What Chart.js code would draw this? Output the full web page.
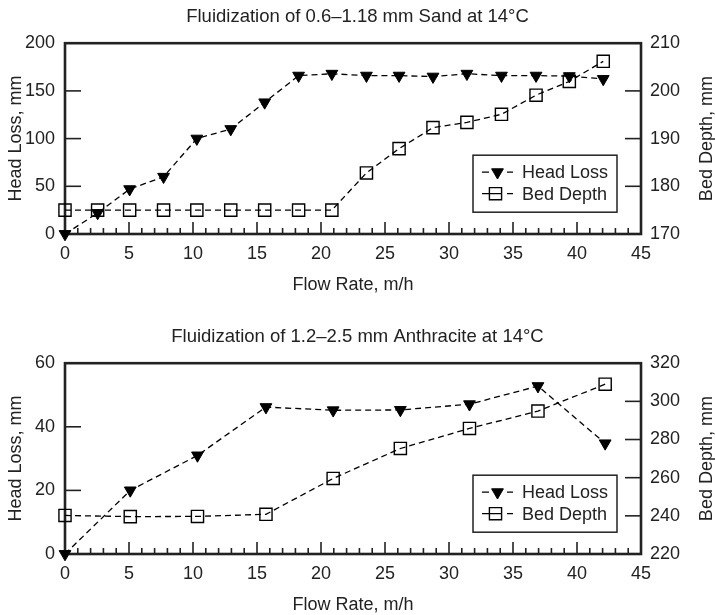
<!DOCTYPE html>
<html>
<head>
<meta charset="utf-8">
<script src="https://cdn.jsdelivr.net/npm/chart.js@4.4.0/dist/chart.umd.min.js"></script>
<style>
  html, body { margin: 0; padding: 0; background: #fff; overflow: hidden; }
  #top { position: absolute; left: 0; top: 0; }
  #bottom { position: absolute; left: 0; top: 320px; }
</style>
</head>
<body>
<canvas id="top" width="715" height="300"></canvas>
<canvas id="bottom" width="715" height="300"></canvas>
<script>
// sand run (top panel)
const sandFlow = [0, 2.55, 5.05, 7.7, 10.3, 12.95, 15.6, 18.25, 20.85, 23.55, 26.1, 28.75, 31.4, 34.1, 36.8, 39.4, 42.05];
const sandHeadLoss = [0, 22, 47, 60, 100, 110, 138, 166, 168, 166, 166, 165, 168, 166, 166, 165.5, 162.5];
const sandBedDepth = [175, 175, 175, 175, 175, 175, 175, 175, 175, 182.8, 187.9, 192.3, 193.4, 195.1, 199.1, 202, 206.2];

// anthracite run (bottom panel)
const anthFlow = [0, 5.1, 10.35, 15.7, 20.95, 26.2, 31.6, 36.95, 42.2];
const anthHeadLoss = [0, 20, 31, 46.2, 45.2, 45.3, 47.1, 52.8, 34.8];
const anthBedDepth = [240.2, 239.6, 239.7, 240.8, 259.6, 275.3, 285.8, 294.9, 309];

const seriesLabels = ['Head Loss', 'Bed Depth'];
const xTitle = 'Flow Rate, m/h';
const leftTitle = 'Head Loss, mm';
const rightTitle = 'Bed Depth, mm';

const FONT = '"Liberation Sans", Arial, Helvetica, sans-serif';
const INK = '#222';
const TXT = 18;

Chart.defaults.font.family = FONT;
Chart.defaults.color = INK;

// frame, inward ticks, right-hand title and the boxed legend
const framePlugin = {
  id: 'frame',
  beforeDatasetsDraw(chart) {
    const { ctx, chartArea: a, scales } = chart;
    ctx.save();
    ctx.strokeStyle = INK;
    ctx.lineWidth = 1.6;
    // x ticks: major every 5, minor every 1
    for (let v = 1; v < 45; v++) {
      const px = scales.x.getPixelForValue(v);
      const len = v % 5 === 0 ? 12 : 6;
      ctx.beginPath();
      ctx.moveTo(px, a.bottom);
      ctx.lineTo(px, a.bottom - len);
      ctx.stroke();
    }
    scales.y.ticks.forEach(t => {
      const py = scales.y.getPixelForValue(t.value);
      ctx.beginPath();
      ctx.moveTo(a.left, py);
      ctx.lineTo(a.left + 16, py);
      ctx.stroke();
    });
    scales.y1.ticks.forEach(t => {
      const py = scales.y1.getPixelForValue(t.value);
      ctx.beginPath();
      ctx.moveTo(a.right - 16, py);
      ctx.lineTo(a.right, py);
      ctx.stroke();
    });
    ctx.lineWidth = 2.6;
    ctx.strokeRect(a.left, a.top, a.right - a.left, a.bottom - a.top);

    // right axis title reads bottom to top, like the left one
    ctx.fillStyle = INK;
    ctx.font = TXT + 'px ' + FONT;
    ctx.textAlign = 'center';
    ctx.textBaseline = 'middle';
    ctx.translate(707, (a.top + a.bottom) / 2);
    ctx.rotate(-Math.PI / 2);
    ctx.fillText(rightTitle, 0, 0);
    ctx.restore();
  },
  afterDraw(chart) {
    const { ctx, chartArea: a } = chart;
    const left = a.right - 168;
    const top = a.top + 112;
    ctx.save();
    ctx.fillStyle = '#fff';
    ctx.fillRect(left, top, 144, 57);
    ctx.strokeStyle = INK;
    ctx.lineWidth = 1.5;
    ctx.strokeRect(left, top, 144, 57);

    const rows = [top + 17, top + 38.5];
    chart.data.datasets.forEach((ds, i) => {
      const y = rows[i];
      ctx.strokeStyle = '#000';
      ctx.lineWidth = 1.3;
      ctx.beginPath();
      if (i === 0) {
        ctx.moveTo(left + 9, y); ctx.lineTo(left + 16, y);
      } else {
        ctx.moveTo(left + 9, y); ctx.lineTo(left + 28, y);
      }
      ctx.moveTo(left + 34, y); ctx.lineTo(left + 40, y);
      ctx.stroke();
      // marker in the dataset's own style
      ctx.fillStyle = ds.pointBackgroundColor;
      ctx.strokeStyle = ds.pointBorderColor;
      ctx.lineWidth = ds.pointBorderWidth;
      Chart.helpers.drawPoint(ctx, {
        pointStyle: ds.pointStyle,
        rotation: ds.pointRotation || 0,
        radius: ds.pointRadius,
        borderWidth: ds.pointBorderWidth
      }, i === 0 ? left + 24.5 : left + 22.5, y);
      ctx.fillStyle = INK;
      ctx.font = TXT + 'px ' + FONT;
      ctx.textAlign = 'left';
      ctx.textBaseline = 'middle';
      ctx.fillText(ds.label, left + 49, y + 1);
    });
    ctx.restore();
  }
};

function makeChart(id, title, flow, headLoss, bedDepth, yMax, yStep, rMin, rMax, rStep) {
  const ctx = document.getElementById(id).getContext('2d');
  return new Chart(ctx, {
    type: 'line',
    data: {
      datasets: [
        {
          label: seriesLabels[0],
          data: flow.map((f, i) => ({ x: f, y: headLoss[i] })),
          yAxisID: 'y',
          borderColor: '#000',
          borderWidth: 1.3,
          borderDash: [6, 4],
          pointStyle: 'triangle',
          pointRotation: 180,
          pointRadius: 6.8,
          pointBorderWidth: 1,
          pointBorderColor: '#000',
          pointBackgroundColor: '#000',
          fill: false,
          clip: false,
          tension: 0
        },
        {
          label: seriesLabels[1],
          data: flow.map((f, i) => ({ x: f, y: bedDepth[i] })),
          yAxisID: 'y1',
          borderColor: '#000',
          borderWidth: 1.3,
          borderDash: [6, 4],
          pointStyle: 'rect',
          pointRadius: 8.6,
          pointBorderWidth: 1.4,
          pointBorderColor: '#000',
          pointBackgroundColor: 'rgba(0,0,0,0)',
          fill: false,
          clip: false,
          tension: 0
        }
      ]
    },
    options: {
      responsive: false,
      animation: false,
      devicePixelRatio: 1,
      layout: { padding: 0 },
      scales: {
        x: {
          type: 'linear',
          min: 0,
          max: 45,
          grid: { display: false, drawTicks: false },
          border: { display: false },
          ticks: { stepSize: 5, padding: 9, font: { size: TXT }, color: INK, maxRotation: 0 },
          title: { display: true, text: xTitle, font: { size: TXT }, color: INK, padding: { top: 0, bottom: 4 } },
          afterFit: s => { s.height = 66; }
        },
        y: {
          position: 'left',
          min: 0,
          max: yMax,
          grid: { display: false, drawTicks: false },
          border: { display: false },
          ticks: { stepSize: yStep, padding: 10, font: { size: TXT }, color: INK },
          title: { display: true, text: leftTitle, font: { size: TXT }, color: INK, padding: { top: 5, bottom: 0 } },
          afterFit: s => { s.width = 65; }
        },
        y1: {
          position: 'right',
          min: rMin,
          max: rMax,
          grid: { display: false, drawTicks: false },
          border: { display: false },
          ticks: { stepSize: rStep, padding: 9, font: { size: TXT }, color: INK },
          afterFit: s => { s.width = 74; }
        }
      },
      plugins: {
        legend: { display: false },
        tooltip: { enabled: false },
        title: {
          display: true,
          text: title,
          font: { size: 18.5, weight: 'normal' },
          color: INK,
          padding: { top: 6, bottom: 15 }
        }
      }
    },
    plugins: [framePlugin]
  });
}

makeChart('top', 'Fluidization of 0.6–1.18 mm Sand at 14°C', sandFlow, sandHeadLoss, sandBedDepth, 200, 50, 170, 210, 10);
makeChart('bottom', 'Fluidization of 1.2–2.5 mm Anthracite at 14°C', anthFlow, anthHeadLoss, anthBedDepth, 60, 20, 220, 320, 20);
</script>
</body>
</html>
